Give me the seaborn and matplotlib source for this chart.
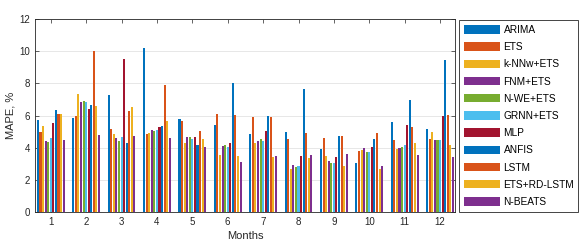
import matplotlib
matplotlib.use("Agg")
import matplotlib.pyplot as plt
import seaborn as sns
import pandas as pd

months = [str(m) for m in range(1, 13)]
models = ["ARIMA", "ETS", "k-NNw+ETS", "FNM+ETS", "N-WE+ETS", "GRNN+ETS",
          "MLP", "ANFIS", "LSTM", "ETS+RD-LSTM", "N-BEATS"]

arima  = [5.72, 5.87, 7.26, 10.19, 5.76, 5.39, 4.83, 4.99, 3.89, 3.04, 5.61, 5.14]
ets    = [4.97, 5.97, 5.16, 4.83, 5.66, 6.10, 5.89, 4.55, 4.62, 3.77, 4.47, 4.55]
knnw   = [5.35, 7.32, 4.85, 4.89, 4.29, 3.56, 4.29, 2.66, 3.45, 3.87, 3.93, 4.95]
fnm    = [4.41, 6.84, 4.60, 5.08, 4.66, 4.08, 4.43, 2.89, 3.18, 3.99, 3.99, 4.49]
nwe    = [4.35, 6.90, 4.41, 5.03, 4.66, 4.16, 4.52, 2.81, 3.06, 3.70, 4.06, 4.49]
grnn   = [4.58, 6.84, 4.66, 5.10, 4.54, 4.04, 4.41, 2.85, 3.06, 3.70, 4.14, 4.49]
mlp    = [5.55, 6.41, 9.50, 5.28, 4.66, 4.29, 5.05, 3.45, 3.43, 4.02, 5.39, 5.97]
anfis  = [6.34, 6.64, 4.30, 5.37, 4.16, 8.01, 5.95, 7.65, 4.72, 4.52, 6.95, 9.46]
lstm   = [6.07, 10.05, 6.28, 7.90, 5.05, 6.01, 5.91, 4.89, 4.72, 4.93, 5.28, 6.01]
etsrd  = [6.07, 6.60, 6.51, 5.68, 4.52, 3.47, 3.39, 3.37, 2.85, 2.68, 4.26, 4.14]
nbeats = [4.45, 4.80, 4.70, 4.62, 4.04, 3.08, 3.47, 3.54, 3.58, 2.87, 3.54, 3.43]

series = [arima, ets, knnw, fnm, nwe, grnn, mlp, anfis, lstm, etsrd, nbeats]

colors = ["#0072BD", "#D95319", "#EDB120", "#7E2F8E", "#77AC30", "#4DBEEE",
          "#A2142F", "#0072BD", "#D95319", "#EDB120", "#7E2F8E"]

rows = []
for name, vals in zip(models, series):
    for m, v in zip(months, vals):
        rows.append({"Month": m, "Model": name, "MAPE": v})
df = pd.DataFrame(rows)

plt.rcParams["font.family"] = ["Liberation Sans", "DejaVu Sans"]
plt.rcParams["font.size"] = 7

fig = plt.figure(figsize=(5.81, 2.49), dpi=100)
ax = fig.add_axes([0.060, 0.150, 0.723, 0.772])

sns.barplot(data=df, x="Month", y="MAPE", hue="Model", order=months,
            hue_order=models, palette=colors, width=0.8, gap=0.2,
            linewidth=0, saturation=1, ax=ax)

ax.set_ylim(0, 12)
ax.set_yticks(range(0, 13, 2))
ax.set_xlim(-0.45, 11.42)
ax.yaxis.grid(True, color="#e3e3e3", linewidth=0.6)
ax.set_axisbelow(True)
ax.set_xlabel("Months", fontsize=8, color="#262626", labelpad=3)
ax.set_ylabel("MAPE, %", fontsize=8, color="#262626", labelpad=3)
for s in ax.spines.values():
    s.set_color("#262626")
    s.set_linewidth(0.6)
ax.tick_params(direction="in", length=3, width=0.5, top=True, right=True,
               colors="#262626", labelsize=7)

handles, labels = ax.get_legend_handles_labels()
ax.get_legend().remove()
leg = fig.legend(handles, labels, loc="upper left",
                 bbox_to_anchor=(0.790, 0.149, 0.205, 0.771), mode="expand",
                 borderaxespad=0, fancybox=False, edgecolor="#262626",
                 framealpha=1, fontsize=7.3, handlelength=3.55, handleheight=0.9,
                 labelspacing=0.71, handletextpad=0.35, borderpad=0.5)
leg.get_frame().set_linewidth(0.6)

fig.savefig("out.png", dpi=100)
